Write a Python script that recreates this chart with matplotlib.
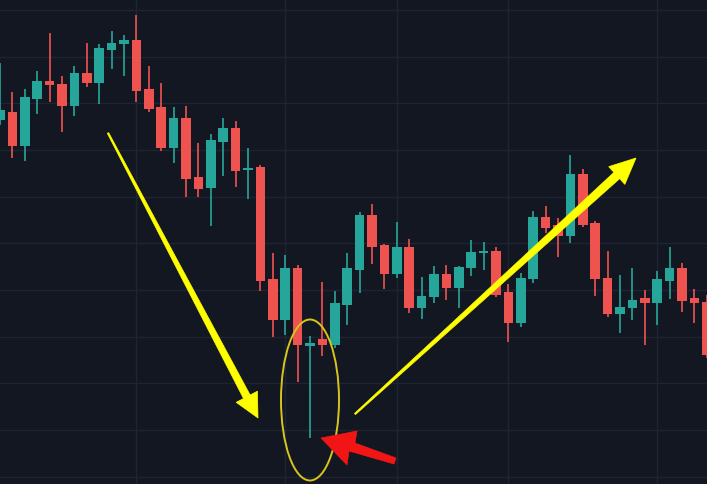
import numpy as np
import matplotlib
matplotlib.use("Agg")
import matplotlib.pyplot as plt
from matplotlib.patches import Polygon, Ellipse

# ---- data (candle index, OHLC in arbitrary price units) ----
opens = [380, 388, 354, 401, 419, 416, 394, 427, 417, 450, 456, 460, 411, 393, 352,
         382, 323, 312, 358, 372, 330, 333, 221, 180, 232, 154, 161, 155, 195, 230,
         285, 255, 226, 253, 192, 203, 226, 212, 232, 247, 249, 208, 177, 221, 283,
         275, 264, 326, 277, 222, 186, 192, 202, 197, 219, 232, 202, 198]
highs = [437, 408, 411, 429, 467, 424, 434, 457, 456, 469, 465, 485, 434, 417, 393,
         394, 357, 366, 382, 379, 352, 335, 247, 245, 235, 164, 218, 209, 247, 288,
         296, 256, 278, 261, 223, 234, 235, 234, 260, 258, 253, 216, 227, 289, 294,
         282, 345, 331, 279, 249, 225, 232, 210, 229, 253, 237, 211, 205]
lows = [375, 342, 339, 386, 398, 368, 384, 413, 396, 431, 424, 398, 388, 349, 337,
        303, 303, 274, 324, 313, 301, 209, 163, 165, 118, 62, 144, 152, 175, 207,
        236, 211, 222, 187, 181, 197, 200, 192, 224, 230, 203, 158, 173, 217, 267,
        243, 257, 273, 204, 183, 167, 180, 155, 175, 201, 188, 177, 142]
closes = [390, 354, 403, 419, 415, 394, 427, 417, 452, 457, 460, 409, 391, 352, 382,
          321, 311, 360, 372, 329, 332, 219, 180, 232, 155, 157, 155, 197, 232, 285,
          253, 226, 253, 192, 204, 226, 212, 233, 248, 248, 205, 177, 222, 283, 272,
          264, 326, 275, 221, 186, 193, 200, 197, 221, 232, 199, 197, 145]

grid_x = [11, 23, 32, 41, 53]
grid_y = [23, 70, 117, 163, 210, 257, 303, 350, 397, 443, 490]

BG = "#131722"
UP = "#26a69a"
DOWN = "#ef5350"
GRID = "#1f2433"

fig = plt.figure(figsize=(7.07, 4.84), dpi=100)
fig.patch.set_facecolor(BG)
ax = fig.add_axes([0, 0, 1, 1])
ax.set_facecolor(BG)

x = np.arange(len(opens))
o = np.array(opens, float)
h = np.array(highs, float)
l = np.array(lows, float)
c = np.array(closes, float)
cols = [UP if cc >= oo else DOWN for oo, cc in zip(o, c)]

ax.vlines(x, l, h, colors=cols, linewidth=1.2, zorder=2)
bottoms = np.minimum(o, c)
heights = np.maximum(np.abs(c - o), 2.0)
ax.bar(x, heights, bottom=bottoms, width=0.78, color=cols, linewidth=0, zorder=3)

ax.set_xlim(0, 707 / 12.4)
ax.set_ylim(16, 500)
ax.set_xticks(grid_x)
ax.set_yticks(grid_y)
ax.grid(True, color=GRID, linewidth=1.0, zorder=0)
ax.tick_params(length=0, labelbottom=False, labelleft=False)
for s in ax.spines.values():
    s.set_visible(False)

# ---- annotation overlay in pixel coordinates ----
ov = fig.add_axes([0, 0, 1, 1])
ov.set_xlim(0, 707)
ov.set_ylim(484, 0)
ov.axis("off")
ov.patch.set_alpha(0)


def tapered_arrow(start, tip, w0, w1, head_len, head_hw, color):
    s = np.array(start, float)
    t = np.array(tip, float)
    d = t - s
    u = d / np.linalg.norm(d)
    p = np.array([-u[1], u[0]])
    b = t - head_len * u
    pts = [s + p * w0 / 2, b + p * w1 / 2, b + p * head_hw, t,
           b - p * head_hw, b - p * w1 / 2, s - p * w0 / 2]
    ov.add_patch(Polygon(pts, closed=True, facecolor=color, edgecolor=color,
                         linewidth=0.5, zorder=5))


YEL = "#ffff00"
tapered_arrow((108, 133), (258, 418), 1.5, 7.5, 24, 12, YEL)
tapered_arrow((355, 414), (636, 158), 1.5, 8.5, 26, 12, YEL)

ov.add_patch(Ellipse((310, 400), 58, 161, fill=False, edgecolor="#d9c41c",
                     linewidth=1.4, zorder=5))

red_pts = [(321, 438), (357, 431), (355, 443), (396, 458), (394, 464),
           (349, 451), (347, 465)]
ov.add_patch(Polygon(red_pts, closed=True, facecolor="#f21515",
                     edgecolor="#f21515", linewidth=0.5, zorder=6))

fig.savefig("out.png", dpi=100, facecolor=BG)
